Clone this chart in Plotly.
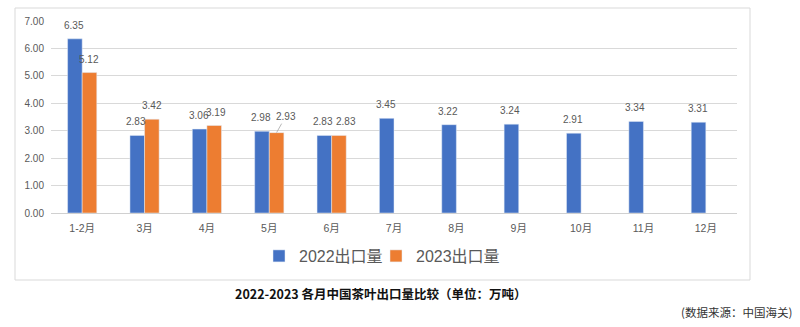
import plotly.graph_objects as go

months = ["1-2月", "3月", "4月", "5月", "6月", "7月", "8月", "9月", "10月", "11月", "12月"]
exports_2022 = [6.35, 2.83, 3.06, 2.98, 2.83, 3.45, 3.22, 3.24, 2.91, 3.34, 3.31]
exports_2023 = [5.12, 3.42, 3.19, 2.93, 2.83, None, None, None, None, None, None]
y_ticks = [0, 1, 2, 3, 4, 5, 6, 7]

BLUE = "#4472C4"
ORANGE = "#ED7D31"
GRAY = "#595959"
FONT = "Liberation Sans, Noto Sans CJK SC, sans-serif"

W, H = 800, 327
L, R, T, B = 51, 63, 21, 114
PW, PH = W - L - R, H - T - B

def px_x(x):
    return (x - L) / PW

def px_y(y):
    return (H - B - y) / PH

fig = go.Figure()
fig.add_trace(go.Bar(name="2022出口量", x=months, y=exports_2022, marker_color=BLUE,
                     legendwidth=72))
fig.add_trace(go.Bar(name="2023出口量", x=months, y=exports_2023, marker_color=ORANGE))

bar_half = PW / len(months) * (1 - 0.532) / 4  # offset of a bar centre from its category centre

# small horizontal nudges of 2023 labels to avoid collisions (as the original does)
label_nudge_2023 = {"4月": 2, "6月": 7}

annotations = []
for m, v in zip(months, exports_2022):
    annotations.append(dict(x=m, y=v, xref="x", yref="y", text=f"{v:.2f}", showarrow=False,
                            xshift=-bar_half - 1, yshift=13.5, yanchor="middle",
                            font=dict(size=10, color=GRAY, family=FONT)))
for m, v in zip(months, exports_2023):
    if v is None:
        continue
    if m == "5月":
        annotations.append(dict(x=m, y=v, xref="x", yref="y", text=f"{v:.2f}", showarrow=True,
                                arrowhead=0, arrowwidth=0.8, arrowcolor="#a6a6a6",
                                ax=9, ay=-16, xshift=bar_half,
                                font=dict(size=10, color=GRAY, family=FONT)))
    else:
        annotations.append(dict(x=m, y=v, xref="x", yref="y", text=f"{v:.2f}", showarrow=False,
                                xshift=bar_half + label_nudge_2023.get(m, 0), yshift=13.5,
                                yanchor="middle",
                                font=dict(size=10, color=GRAY, family=FONT)))

annotations.append(dict(x=px_x(380), y=px_y(293), xref="paper", yref="paper",
                        text="<b>2022-2023 各月中国茶叶出口量比较（单位：万吨）</b>",
                        showarrow=False, xanchor="center", yanchor="middle",
                        font=dict(size=12.5, color="#111111", family="Noto Sans CJK SC, sans-serif")))
annotations.append(dict(x=px_x(794), y=px_y(312), xref="paper", yref="paper",
                        text="(数据来源：中国海关)",
                        showarrow=False, xanchor="right", yanchor="middle",
                        font=dict(size=11.5, color="#333333", family="Noto Sans CJK SC, sans-serif")))

fig.update_layout(
    width=W, height=H,
    margin=dict(l=L, r=R, t=T, b=B),
    paper_bgcolor="white", plot_bgcolor="white",
    barmode="group", bargap=0.532, bargroupgap=0,
    font=dict(family=FONT, color=GRAY),
    showlegend=True,
    legend=dict(orientation="h", x=px_x(259), y=px_y(256), xanchor="left", yanchor="middle",
                font=dict(size=16, color=GRAY, family=FONT), itemwidth=30,
                bgcolor="rgba(0,0,0,0)"),
    annotations=annotations,
    shapes=[dict(type="rect", xref="paper", yref="paper",
                 x0=px_x(15), x1=px_x(750), y0=px_y(280), y1=px_y(8),
                 line=dict(color="#d9d9d9", width=1), fillcolor="rgba(0,0,0,0)", layer="below")],
)
fig.update_xaxes(type="category", showgrid=False, showline=False, zeroline=False,
                 tickfont=dict(size=10.5, color=GRAY), ticks="", ticklabelstandoff=7)
fig.update_yaxes(range=[0, 7], tickvals=y_ticks, tickformat=".2f", showgrid=True,
                 gridcolor="#d9d9d9", gridwidth=1, zeroline=True, zerolinecolor="#d0d0d0",
                 zerolinewidth=1, showline=False, ticks="",
                 tickfont=dict(size=10, color=GRAY), ticklabelstandoff=6)

fig.write_html("out.html")
